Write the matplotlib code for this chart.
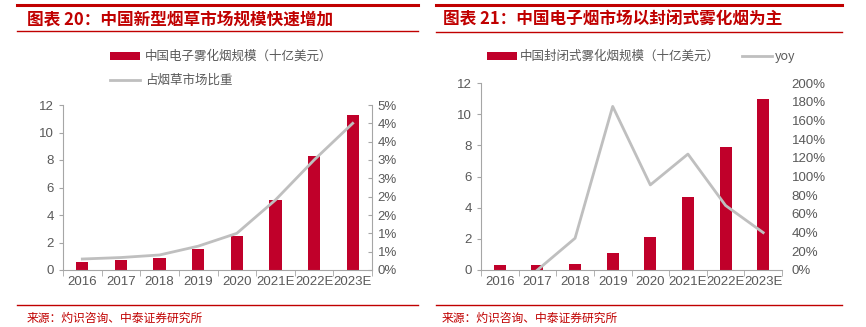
import matplotlib
matplotlib.use("Agg")
import matplotlib.pyplot as plt
import numpy as np
from matplotlib.lines import Line2D
from matplotlib.patches import Patch
from matplotlib.ticker import FixedLocator, FuncFormatter

years = ["2016", "2017", "2018", "2019", "2020", "2021E", "2022E", "2023E"]
# Left chart
ecig_size = [0.6, 0.7, 0.9, 1.5, 2.5, 5.1, 8.3, 11.3]
tobacco_share = [0.30, 0.34, 0.41, 0.65, 1.00, 1.91, 3.00, 4.00]  # percent
# Right chart
closed_size = [0.3, 0.3, 0.4, 1.1, 2.1, 4.7, 7.9, 11.0]
yoy_years = ["2017", "2018", "2019", "2020", "2021E", "2022E", "2023E"]
yoy = [0, 34, 175, 91, 124, 69, 40]  # percent

title_left = "图表 20：中国新型烟草市场规模快速增加"
title_right = "图表 21：中国电子烟市场以封闭式雾化烟为主"
legend_left = ["中国电子雾化烟规模（十亿美元）", "占烟草市场比重"]
legend_right = ["中国封闭式雾化烟规模（十亿美元）", "yoy"]
source = "来源：灼识咨询、中泰证券研究所"

RED = "#C0002A"
GREY = "#BFBFBF"
TXT = "#595959"
TITLE_RED = "#C00000"
CJK = ["Noto Sans CJK SC", "DejaVu Sans"]
NUM = ["Liberation Sans", "DejaVu Sans"]
TS = 9.5

W, H = 866, 327
fig = plt.figure(figsize=(W / 100, H / 100), dpi=100)


def fx(px):
    return px / W


def fy(py):
    return 1 - py / H


def hline(x0, x1, y, lw, color):
    fig.add_artist(Line2D([fx(x0), fx(x1)], [fy(y), fy(y)], transform=fig.transFigure,
                          color=color, lw=lw))


def style_axes(ax, ax2, right_spine):
    for a in (ax, ax2):
        for s in a.spines.values():
            s.set_visible(False)
    ax.spines["left"].set_visible(True)
    ax.spines["bottom"].set_visible(True)
    ax.spines["left"].set_color("#A6A6A6")
    ax.spines["bottom"].set_color("#A6A6A6")
    ax.tick_params(axis="y", colors="#A6A6A6", labelcolor=TXT, labelsize=TS, length=3, direction="out")
    if right_spine:
        ax2.spines["right"].set_visible(True)
        ax2.spines["right"].set_color("#A6A6A6")
        ax2.tick_params(axis="y", colors="#A6A6A6", labelcolor=TXT, labelsize=TS, length=3,
                        direction="in", pad=4)
    else:
        ax2.tick_params(axis="y", labelcolor=TXT, labelsize=TS, length=0, pad=7)
    ax.tick_params(axis="x", which="major", length=0, labelcolor=TXT, labelsize=TS, pad=4)
    ax.tick_params(axis="x", which="minor", length=4, colors="#A6A6A6")
    for lab in ax.get_xticklabels() + ax.get_yticklabels() + ax2.get_yticklabels():
        lab.set_family(NUM)


x = np.arange(len(years))

# ---------- Left chart ----------
axL = fig.add_axes([fx(63), fy(270), fx(372 - 63), (270 - 105) / H])
axL2 = axL.twinx()
axL.bar(x, ecig_size, width=0.32, color=RED, zorder=2)
axL2.plot(x, tobacco_share, color=GREY, lw=2, zorder=3)
axL.set_xlim(-0.5, len(years) - 0.5)
axL.set_ylim(0, 12)
axL.set_yticks(np.arange(0, 13, 2))
axL.set_xticks(x)
axL.set_xticklabels(years)
axL.xaxis.set_minor_locator(FixedLocator(np.arange(-0.5, len(years), 1)))
axL2.set_ylim(0, 4.5)
axL2.set_yticks(np.arange(0, 4.51, 0.5))
axL2.yaxis.set_major_formatter(FuncFormatter(lambda v, p: f"{int(v + 0.5 + 1e-9)}%"))
style_axes(axL, axL2, True)

# ---------- Right chart ----------
axR = fig.add_axes([fx(481), fy(270), fx(782 - 481), (270 - 83) / H])
axR2 = axR.twinx()
axR.bar(x, closed_size, width=0.32, color=RED, zorder=2)
xy = [years.index(y) for y in yoy_years]
axR2.plot(xy, yoy, color=GREY, lw=2, zorder=3)
axR.set_xlim(-0.5, len(years) - 0.5)
axR.set_ylim(0, 12)
axR.set_yticks(np.arange(0, 13, 2))
axR.set_xticks(x)
axR.set_xticklabels(years)
axR.xaxis.set_minor_locator(FixedLocator(np.arange(-0.5, len(years), 1)))
axR2.set_ylim(0, 200)
axR2.set_yticks(np.arange(0, 201, 20))
axR2.yaxis.set_major_formatter(FuncFormatter(lambda v, p: f"{int(round(v))}%"))
style_axes(axR, axR2, False)

# ---------- Decorations ----------
hline(17, 418, 5, 2.2, TITLE_RED)
hline(17, 418, 31, 1.0, TITLE_RED)
hline(436, 842, 5, 2.2, TITLE_RED)
hline(436, 842, 32, 1.0, TITLE_RED)
hline(17, 418, 305, 1.0, TITLE_RED)
hline(436, 842, 305, 1.0, TITLE_RED)

fig.text(fx(27), fy(19), title_left, family=CJK, fontsize=12, fontweight="bold",
         color=TITLE_RED, va="center", ha="left", fontstyle="italic")
fig.text(fx(443), fy(19), title_right, family=CJK, fontsize=12, fontweight="bold",
         color=TITLE_RED, va="center", ha="left", fontstyle="italic")
fig.text(fx(27), fy(318), source, family=CJK, fontsize=8.5, color=TITLE_RED, va="center", ha="left")
fig.text(fx(442), fy(318), source, family=CJK, fontsize=8.5, color=TITLE_RED, va="center", ha="left")

# Legends
hL = [Patch(facecolor=RED, edgecolor="none"), Line2D([], [], color=GREY, lw=2)]
legL = fig.legend(hL, legend_left, loc="upper left", bbox_to_anchor=(fx(105), fy(45)),
                  ncol=1, frameon=False, prop={"family": CJK, "size": 9},
                  labelcolor=TXT, handlelength=2.4, handleheight=0.6, labelspacing=0.9,
                  handletextpad=0.4, borderaxespad=0)
hR = [Patch(facecolor=RED, edgecolor="none"), Line2D([], [], color=GREY, lw=2)]
legR = fig.legend(hR, legend_right, loc="upper left", bbox_to_anchor=(fx(482), fy(45)),
                  ncol=2, frameon=False, prop={"family": CJK, "size": 9},
                  labelcolor=TXT, handlelength=2.4, handleheight=0.6, columnspacing=1.8,
                  handletextpad=0.2, borderaxespad=0)

fig.savefig("out.png", dpi=100)
